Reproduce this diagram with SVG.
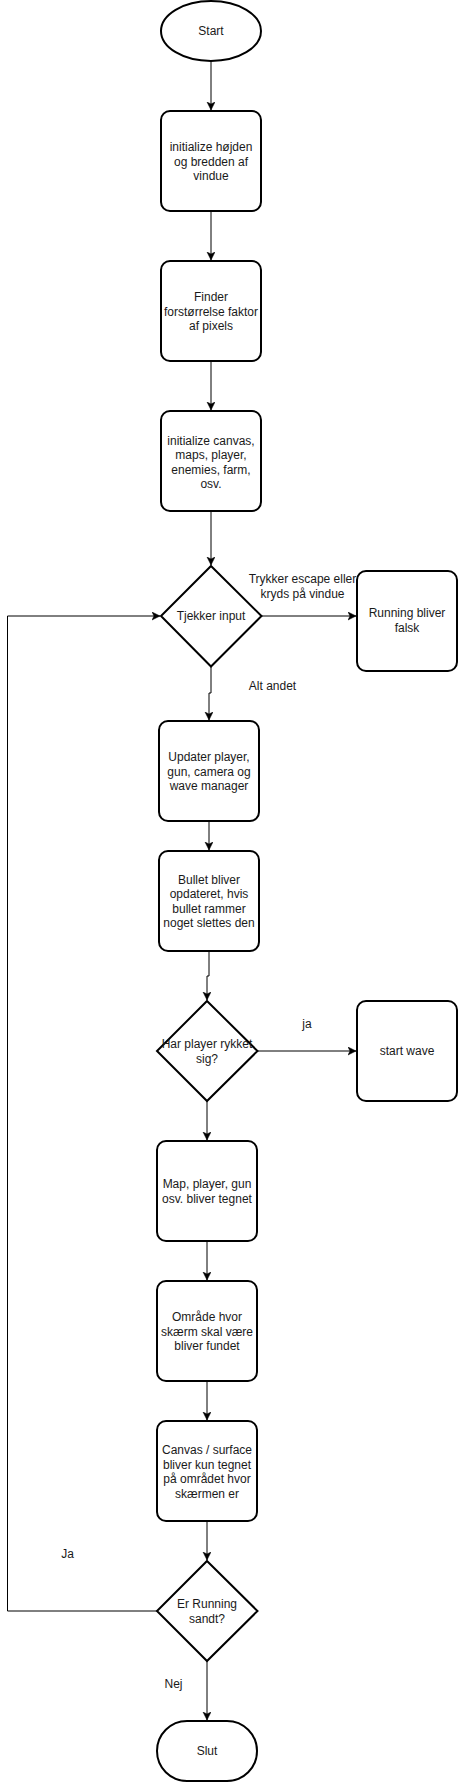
<svg xmlns="http://www.w3.org/2000/svg" width="459" height="1782" viewBox="0 0 459 1782">
<style>
.n{fill:#fff;stroke:#000;stroke-width:2}
.t{font-family:"Liberation Sans",Arial,sans-serif;font-size:12px;fill:#1a1a1a;text-anchor:middle}
.e{fill:none;stroke:#000;stroke-width:1}
</style>
<defs>
<marker id="a" markerUnits="userSpaceOnUse" markerWidth="10" markerHeight="10" refX="8" refY="4" orient="auto">
<path d="M0,0 L8,4 L0,8 L2,4 Z" fill="#000" stroke="#000" stroke-width="0.5"/>
</marker>
</defs>
<rect width="459" height="1782" fill="#fff"/>
<g id="connectors">
<path class="e" d="M211,61 V110" marker-end="url(#a)"/>
<path class="e" d="M211,212 V260" marker-end="url(#a)"/>
<path class="e" d="M211,362 V410" marker-end="url(#a)"/>
<path class="e" d="M211,512 V565" marker-end="url(#a)"/>
<path class="e" d="M262,616 H356" marker-end="url(#a)"/>
<path class="e" d="M211,667 V693 H209 V720" marker-end="url(#a)"/>
<path class="e" d="M209,822 V850" marker-end="url(#a)"/>
<path class="e" d="M209,952 V976 H207 V1000" marker-end="url(#a)"/>
<path class="e" d="M258,1051 H356" marker-end="url(#a)"/>
<path class="e" d="M207,1101 V1140" marker-end="url(#a)"/>
<path class="e" d="M207,1242 V1280" marker-end="url(#a)"/>
<path class="e" d="M207,1382 V1420" marker-end="url(#a)"/>
<path class="e" d="M207,1522 V1560" marker-end="url(#a)"/>
<path class="e" d="M207,1661 V1720" marker-end="url(#a)"/>
<path class="e" d="M157,1611 H7.5 V616 H160" marker-end="url(#a)"/>
<text class="t" x="302.5" y="583">Trykker escape eller</text>
<text class="t" x="302.5" y="597.5">kryds på vindue</text>
<text class="t" x="272.5" y="690">Alt andet</text>
<text class="t" x="307" y="1027.5">ja</text>
<text class="t" x="67.5" y="1557.5">Ja</text>
<text class="t" x="173.5" y="1687.5">Nej</text>
</g>
<g id="start">
<ellipse class="n" cx="211" cy="31" rx="50" ry="30"/>
<text class="t" x="211" y="35">Start</text>
</g>
<g id="init-size">
<rect class="n" x="161" y="111" width="100" height="100" rx="9"/>
<text class="t" x="211" y="151">initialize højden</text>
<text class="t" x="211" y="165.5">og bredden af</text>
<text class="t" x="211" y="180">vindue</text>
</g>
<g id="scale">
<rect class="n" x="161" y="261" width="100" height="100" rx="9"/>
<text class="t" x="211" y="301">Finder</text>
<text class="t" x="211" y="315.5">forstørrelse faktor</text>
<text class="t" x="211" y="330">af pixels</text>
</g>
<g id="init-canvas">
<rect class="n" x="161" y="411" width="100" height="100" rx="9"/>
<text class="t" x="211" y="444.5">initialize canvas,</text>
<text class="t" x="211" y="459">maps, player,</text>
<text class="t" x="211" y="473.5">enemies, farm,</text>
<text class="t" x="211" y="488">osv.</text>
</g>
<g id="check-input">
<path class="n" d="M211,566 L261.5,616 L211,666.5 L161,616 Z"/>
<text class="t" x="211" y="620">Tjekker input</text>
</g>
<g id="running-false">
<rect class="n" x="357" y="571" width="100" height="100" rx="9"/>
<text class="t" x="407" y="617">Running bliver</text>
<text class="t" x="407" y="632">falsk</text>
</g>
<g id="update">
<rect class="n" x="159" y="721" width="100" height="100" rx="9"/>
<text class="t" x="209" y="761">Updater player,</text>
<text class="t" x="209" y="775.5">gun, camera og</text>
<text class="t" x="209" y="790">wave manager</text>
</g>
<g id="bullet">
<rect class="n" x="159" y="851" width="100" height="100" rx="9"/>
<text class="t" x="209" y="883.5">Bullet bliver</text>
<text class="t" x="209" y="898">opdateret, hvis</text>
<text class="t" x="209" y="912.5">bullet rammer</text>
<text class="t" x="209" y="927">noget slettes den</text>
</g>
<g id="moved">
<path class="n" d="M207,1001 L257.5,1051 L207,1101 L157,1051 Z"/>
<text class="t" x="207" y="1047.5">Har player rykket</text>
<text class="t" x="207" y="1062.5">sig?</text>
</g>
<g id="start-wave">
<rect class="n" x="357" y="1001" width="100" height="100" rx="9"/>
<text class="t" x="407" y="1055">start wave</text>
</g>
<g id="draw">
<rect class="n" x="157" y="1141" width="100" height="100" rx="9"/>
<text class="t" x="207" y="1188">Map, player, gun</text>
<text class="t" x="207" y="1202.5">osv. bliver tegnet</text>
</g>
<g id="area">
<rect class="n" x="157" y="1281" width="100" height="100" rx="9"/>
<text class="t" x="207" y="1321">Område hvor</text>
<text class="t" x="207" y="1335.5">skærm skal være</text>
<text class="t" x="207" y="1350">bliver fundet</text>
</g>
<g id="canvas-draw">
<rect class="n" x="157" y="1421" width="100" height="100" rx="9"/>
<text class="t" x="207" y="1454">Canvas / surface</text>
<text class="t" x="207" y="1468.5">bliver kun tegnet</text>
<text class="t" x="207" y="1483">på området hvor</text>
<text class="t" x="207" y="1497.5">skærmen er</text>
</g>
<g id="running-true">
<path class="n" d="M207,1561 L257.5,1611 L207,1661 L157,1611 Z"/>
<text class="t" x="207" y="1608">Er Running</text>
<text class="t" x="207" y="1622.5">sandt?</text>
</g>
<g id="end">
<rect class="n" x="157" y="1721" width="100" height="60" rx="30"/>
<text class="t" x="207" y="1755">Slut</text>
</g>
</svg>
